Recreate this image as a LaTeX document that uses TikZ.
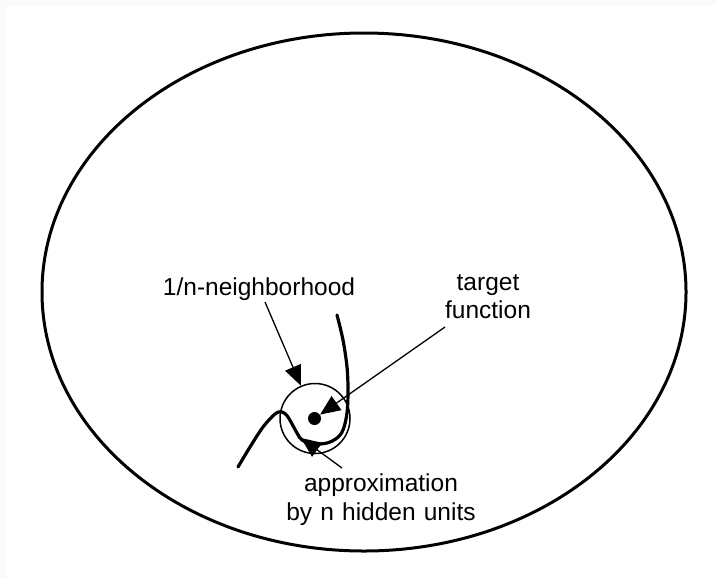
\documentclass[tikz,border=0pt]{standalone}
\usepackage{fontspec}
\setmainfont{Liberation Sans}
\usetikzlibrary{arrows.meta}

\begin{document}
\begin{tikzpicture}[x=0.5pt, y=-0.5pt,
        lbl/.style = {inner sep=0pt, font=\fontsize{12.25}{14.25}\selectfont},
        pointer/.style = {line width=0.65pt, -{Triangle[length=10pt, width=8.5pt]}},
        fn/.style = {line width=1.6pt, line cap=round, line join=round}]
        % page with its thin grey margin
        \fill[gray!4] (0,0) rectangle (715,578);
        \fill[white] (6,5) rectangle (715,578);
        \useasboundingbox (0,0) rectangle (715,578);

        % the whole space
        \draw[line width=1.5pt] (364,292) ellipse [x radius=322, y radius=259];

        % neighbourhood and target point
        \node[draw, circle, line width=0.75pt, minimum size=35pt, inner sep=0pt] (ball) at (315,418.5) {};
        \node[fill, circle, minimum size=6.5pt, inner sep=0pt] (dot) at (314.5,418.5) {};

        % approximating curve
        \draw[fn] plot[smooth, tension=0.55] coordinates {
            (238,467) (250,447) (263,427) (275,414) (282,412) (288,417)
            (297,433) (302,440) (313,444) (327,443) (337,438) (343,430)
            (347,413) (348,390) (347,367) (343,340) (337,315)};

        \node[lbl, anchor=base] (nbh) at (259,295) {1/n-neighborhood};
        \node[lbl, anchor=base, text width=60pt, align=center] (tgt) at (488,290) {target\\function};
        \node[lbl, anchor=base, text width=100pt, align=center] (apx) at (381,491.5) {approximation\\by n hidden units};

        \coordinate (nbhtail) at (265,302);
        \coordinate (tgttail) at (445,327);
        \coordinate (apxtail) at (342,468);
        \coordinate (apxtip) at (301,438);

        \draw[pointer] (nbhtail) -- (ball);
        \draw[pointer] (tgttail) -- (dot);
        \draw[pointer] (apxtail) -- (apxtip);
\end{tikzpicture}
\end{document}
